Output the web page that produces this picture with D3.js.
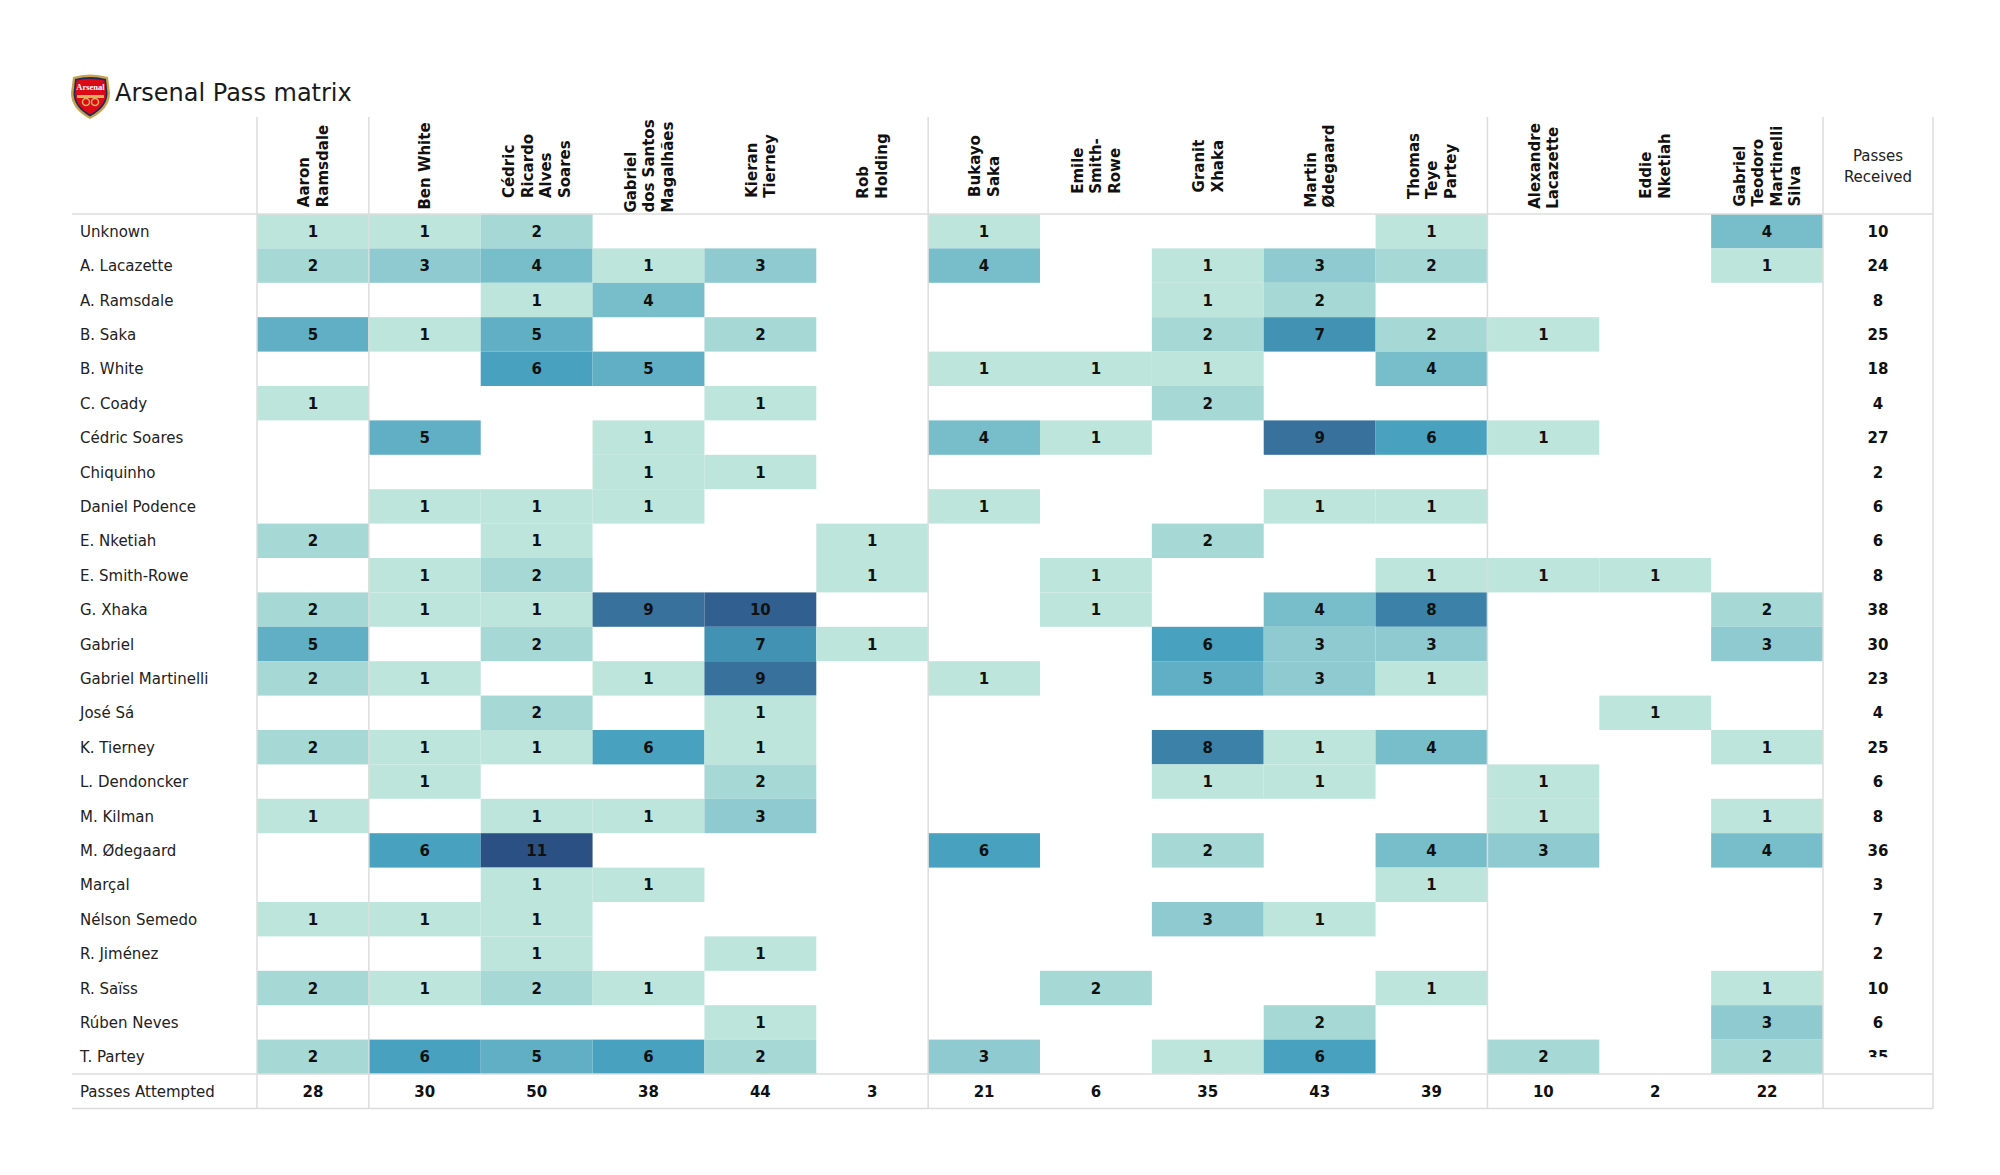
<!DOCTYPE html>
<html><head><meta charset="utf-8">
<script src="https://cdn.jsdelivr.net/npm/d3@7"></script>
<style>body{margin:0;background:#fff;} svg{display:block;}</style>
</head><body>
<svg id="chart" width="2000" height="1175"></svg>
<script>
const title = "Arsenal Pass matrix";
const passers = ["Aaron Ramsdale","Ben White","Cédric Ricardo Alves Soares","Gabriel dos Santos Magalhães","Kieran Tierney","Rob Holding","Bukayo Saka","Emile Smith-Rowe","Granit Xhaka","Martin Ødegaard","Thomas Teye Partey","Alexandre Lacazette","Eddie Nketiah","Gabriel Teodoro Martinelli Silva"];
const passerLabels = [["Aaron","Ramsdale"],["Ben White"],["Cédric","Ricardo","Alves","Soares"],["Gabriel","dos Santos","Magalhães"],["Kieran","Tierney"],["Rob","Holding"],["Bukayo","Saka"],["Emile","Smith-","Rowe"],["Granit","Xhaka"],["Martin","Ødegaard"],["Thomas","Teye","Partey"],["Alexandre","Lacazette"],["Eddie","Nketiah"],["Gabriel","Teodoro","Martinelli","Silva"]];
const receivers = ["Unknown","A. Lacazette","A. Ramsdale","B. Saka","B. White","C. Coady","Cédric Soares","Chiquinho","Daniel Podence","E. Nketiah","E. Smith-Rowe","G. Xhaka","Gabriel","Gabriel Martinelli","José Sá","K. Tierney","L. Dendoncker","M. Kilman","M. Ødegaard","Marçal","Nélson Semedo","R. Jiménez","R. Saïss","Rúben Neves","T. Partey"];
const matrix = [
 [1,1,2,0,0,0,1,0,0,0,1,0,0,4],
 [2,3,4,1,3,0,4,0,1,3,2,0,0,1],
 [0,0,1,4,0,0,0,0,1,2,0,0,0,0],
 [5,1,5,0,2,0,0,0,2,7,2,1,0,0],
 [0,0,6,5,0,0,1,1,1,0,4,0,0,0],
 [1,0,0,0,1,0,0,0,2,0,0,0,0,0],
 [0,5,0,1,0,0,4,1,0,9,6,1,0,0],
 [0,0,0,1,1,0,0,0,0,0,0,0,0,0],
 [0,1,1,1,0,0,1,0,0,1,1,0,0,0],
 [2,0,1,0,0,1,0,0,2,0,0,0,0,0],
 [0,1,2,0,0,1,0,1,0,0,1,1,1,0],
 [2,1,1,9,10,0,0,1,0,4,8,0,0,2],
 [5,0,2,0,7,1,0,0,6,3,3,0,0,3],
 [2,1,0,1,9,0,1,0,5,3,1,0,0,0],
 [0,0,2,0,1,0,0,0,0,0,0,0,1,0],
 [2,1,1,6,1,0,0,0,8,1,4,0,0,1],
 [0,1,0,0,2,0,0,0,1,1,0,1,0,0],
 [1,0,1,1,3,0,0,0,0,0,0,1,0,1],
 [0,6,11,0,0,0,6,0,2,0,4,3,0,4],
 [0,0,1,1,0,0,0,0,0,0,1,0,0,0],
 [1,1,1,0,0,0,0,0,3,1,0,0,0,0],
 [0,0,1,0,1,0,0,0,0,0,0,0,0,0],
 [2,1,2,1,0,0,0,2,0,0,1,0,0,1],
 [0,0,0,0,1,0,0,0,0,2,0,0,0,3],
 [2,6,5,6,2,0,3,0,1,6,0,2,0,2]
];
const passesReceived = [10,24,8,25,18,4,27,2,6,6,8,38,30,23,4,25,6,8,36,3,7,2,10,6,35];
const passesAttempted = [28,30,50,38,44,3,21,6,35,43,39,10,2,22];
const groupEnds = ["Aaron Ramsdale","Rob Holding","Thomas Teye Partey","Gabriel Teodoro Martinelli Silva"];

const svg = d3.select("#chart");
const font = "'DejaVu Sans', Verdana, sans-serif";
const tableLeft = 72, nameX = 80, right = 1933;
const headerTop = 117;
const x = d3.scaleBand().domain(passers).range([257, 1823]);
const rowsAll = receivers.concat(["Passes Attempted"]);
const y = d3.scaleBand().domain(rowsAll).range([214, 214 + 34.4 * rowsAll.length]);
const color = d3.scaleLinear().domain([1, 6, 11]).range(["#bee5db", "#48a2bf", "#2b5084"]).interpolate(d3.interpolateRgb);
const recX = 1823, recW = right - 1823;

// cells
const cells = [];
matrix.forEach((row, i) => row.forEach((v, j) => { if (v > 0) cells.push({r: receivers[i], c: passers[j], v}); }));
const g = svg.append("g");
g.selectAll("rect.cell").data(cells).join("rect").attr("class","cell")
  .attr("x", d => x(d.c)).attr("y", d => y(d.r))
  .attr("width", x.bandwidth()).attr("height", y.bandwidth())
  .attr("fill", d => color(d.v));
g.selectAll("text.val").data(cells).join("text").attr("class","val")
  .attr("x", d => x(d.c) + x.bandwidth()/2).attr("y", d => y(d.r) + y.bandwidth()/2 + 5.5)
  .attr("text-anchor","middle").attr("font-family", font).attr("font-weight","bold")
  .attr("font-size", 15).attr("fill","#111").text(d => d.v);

// row labels
g.selectAll("text.rl").data(rowsAll).join("text").attr("class","rl")
  .attr("x", nameX).attr("y", d => y(d) + y.bandwidth()/2 + 5.5)
  .attr("font-family", font).attr("font-size", 15).attr("fill","#222").text(d => d);

// passes attempted
g.selectAll("text.pa").data(passesAttempted).join("text").attr("class","pa")
  .attr("x", (d,i) => x(passers[i]) + x.bandwidth()/2).attr("y", y("Passes Attempted") + y.bandwidth()/2 + 5.5)
  .attr("text-anchor","middle").attr("font-family", font).attr("font-weight","bold")
  .attr("font-size", 15).attr("fill","#111").text(d => d);

// passes received (last one clipped as in reference)
svg.append("defs").append("clipPath").attr("id","clipLast")
  .append("rect").attr("x", recX).attr("y", y("T. Partey")).attr("width", recW).attr("height", y.bandwidth()/2 + 0.5);
g.selectAll("text.pr").data(passesReceived).join("text").attr("class","pr")
  .attr("x", recX + recW/2).attr("y", (d,i) => y(receivers[i]) + y.bandwidth()/2 + 5.5)
  .attr("text-anchor","middle").attr("font-family", font).attr("font-weight","bold")
  .attr("font-size", 15).attr("fill","#111")
  .attr("clip-path", (d,i) => i === receivers.length - 1 ? "url(#clipLast)" : null)
  .text(d => d);

// headers
const hdr = svg.append("g");
const lh = 18.5, hCenter = 166;
passers.forEach((p, j) => {
  const lines = passerLabels[j];
  const cx = x(p) + x.bandwidth()/2;
  const tmp = [];
  lines.forEach((ln, k) => {
    const lx = cx + (k - (lines.length - 1)/2) * lh + 5.5;
    const t = hdr.append("text").attr("font-family", font).attr("font-weight","bold")
      .attr("font-size", 15).attr("fill","#111").attr("text-anchor","start").text(ln);
    tmp.push({t, lx});
  });
  const maxLen = d3.max(tmp, o => o.t.node().getComputedTextLength());
  const by = hCenter + maxLen/2;
  tmp.forEach(o => o.t.attr("transform", `translate(${o.lx},${by}) rotate(-90)`));
});
hdr.selectAll("text.rh").data(["Passes","Received"]).join("text")
  .attr("x", recX + recW/2).attr("y", (d,i) => 161 + i*21)
  .attr("text-anchor","middle").attr("font-family", font).attr("font-size", 15).attr("fill","#222").text(d => d);

// lines
const lineCol = "#dcdcdc";
const bottom = y("Passes Attempted") + y.bandwidth();
const vxs = [257].concat(groupEnds.map(p => x(p) + x.bandwidth())).concat([right]);
svg.selectAll("line.v").data(vxs).join("line")
  .attr("x1", d => d).attr("x2", d => d).attr("y1", headerTop).attr("y2", bottom)
  .attr("stroke", lineCol).attr("stroke-width", 1.5);
svg.selectAll("line.h").data([214, y("Passes Attempted"), bottom]).join("line")
  .attr("x1", tableLeft).attr("x2", right).attr("y1", d => d).attr("y2", d => d)
  .attr("stroke", lineCol).attr("stroke-width", 1.5);

// title + crest
svg.append("text").attr("x", 115).attr("y", 101).attr("font-family", font).attr("font-size", 24)
  .attr("fill","#1a1a1a").text(title);
const crest = svg.append("g").attr("transform","translate(70,73)");
const shield = "M3,4 Q20,-1 38,4 L40,20 Q40,36 20,46 Q1,36 1,20 Z";
crest.append("path").attr("d", shield).attr("fill","#c9a24a");
crest.append("path").attr("d", "M5,6 Q20,2 36,6 L37.5,20 Q37.5,34 20,43.5 Q3.5,34 3.5,20 Z").attr("fill","#1d2b5c");
crest.append("path").attr("d", "M6.5,7.5 Q20,3.8 34.5,7.5 L35.8,20 Q35.8,33 20,41.5 Q5.2,33 5.2,20 Z").attr("fill","#db0a16");
crest.append("text").attr("x",20.5).attr("y",17).attr("text-anchor","middle").attr("font-family","'Liberation Serif', serif")
  .attr("font-weight","bold").attr("font-size",8.5).attr("fill","#fff").text("Arsenal");
crest.append("rect").attr("x",7).attr("y",22).attr("width",27).attr("height",3).attr("fill","#d8b35a");
crest.append("circle").attr("cx",16).attr("cy",29).attr("r",3.5).attr("fill","none").attr("stroke","#d8b35a").attr("stroke-width",1.5);
crest.append("circle").attr("cx",25).attr("cy",29).attr("r",3.5).attr("fill","none").attr("stroke","#d8b35a").attr("stroke-width",1.5);
</script>
</body></html>
